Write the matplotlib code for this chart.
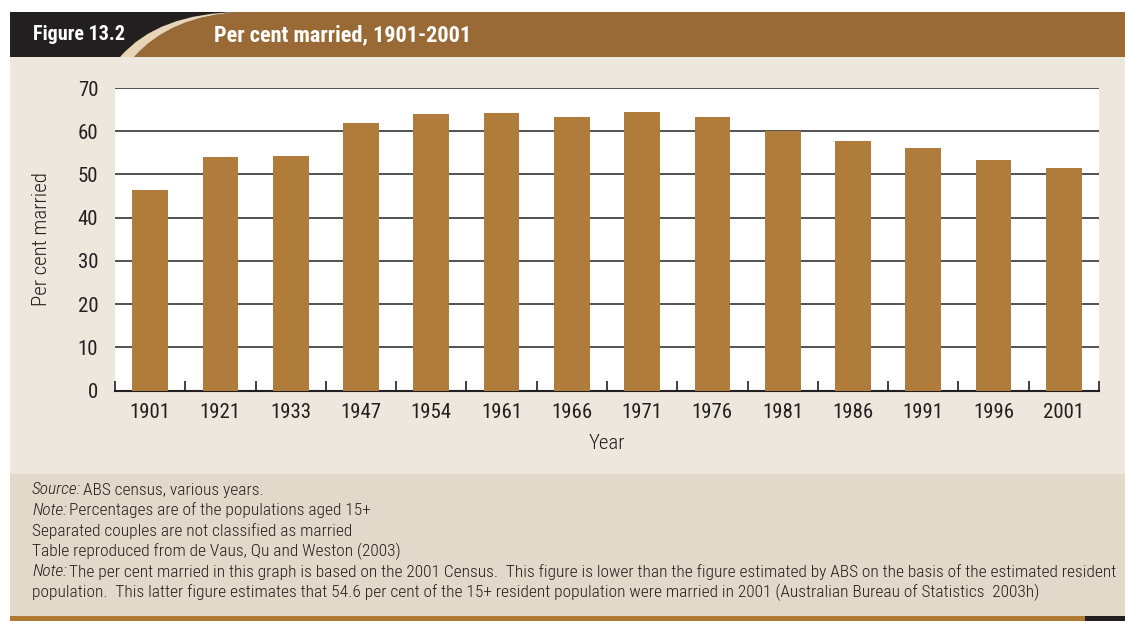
import matplotlib.pyplot as plt
from matplotlib.patches import Rectangle, PathPatch
from matplotlib.path import Path

years = ['1901', '1921', '1933', '1947', '1954', '1961', '1966',
         '1971', '1976', '1981', '1986', '1991', '1996', '2001']
pct_married = [46.4, 54.0, 54.3, 61.9, 64.0, 64.2, 63.3,
               64.4, 63.3, 60.1, 57.8, 56.1, 53.4, 51.5]
yticks = [0, 10, 20, 30, 40, 50, 60, 70]

notes = [
    ('Source:', 'ABS census, various years.'),
    ('Note:', 'Percentages are of the populations aged 15+'),
    ('', 'Separated couples are not classified as married'),
    ('', 'Table reproduced from de Vaus, Qu and Weston (2003)'),
    ('Note:', 'The per cent married in this graph is based on the 2001 Census.  This figure is lower than the figure '
              'estimated by ABS on the basis of the estimated resident'),
    ('', 'population.  This latter figure estimates that 54.6 per cent of the 15+ resident population were married '
         'in 2001 (Australian Bureau of Statistics  2003h)'),
]

plt.rcParams['font.family'] = ['Roboto Condensed', 'DejaVu Sans']

W, H = 1125, 621
ink = '#231F20'
fig = plt.figure(figsize=(W / 100, H / 100), dpi=100)
fig.patch.set_facecolor('white')

# background frame drawn in pixel coordinates
bg = fig.add_axes([0, 0, 1, 1])
bg.set_xlim(0, W)
bg.set_ylim(H, 0)
bg.axis('off')

bg.add_patch(Rectangle((10, 57), W - 10, 417, color='#EEE7DE', lw=0))
bg.add_patch(Rectangle((10, 474), W - 10, 143, color='#E3D9CA', lw=0))
bg.add_patch(Rectangle((10, 616), 1080, 5, color='#B07A35', lw=0))
bg.add_patch(Rectangle((1085, 616), 40, 5, color=ink, lw=0))

# header bar
bg.add_patch(Rectangle((10, 12), W - 10, 45, color=ink, lw=0))
brown = Path([(134, 57), (170, 16), (240, 12), (W, 12), (W, 57), (134, 57)],
             [Path.MOVETO, Path.CURVE3, Path.CURVE3, Path.LINETO, Path.LINETO, Path.CLOSEPOLY])
bg.add_patch(PathPatch(brown, color='#9A6A36', lw=0))
swoosh = Path([(120, 57), (158, 13), (240, 12), (170, 16), (134, 57), (120, 57)],
              [Path.MOVETO, Path.CURVE3, Path.CURVE3, Path.CURVE3, Path.CURVE3, Path.CLOSEPOLY])
bg.add_patch(PathPatch(swoosh, color='#E8D5B7', lw=0))
bg.text(33, 35, 'Figure 13.2', color='white', fontsize=14.5, fontweight='bold',
        va='center', ha='left')
bg.text(214, 35, 'Per cent married, 1901-2001', color='white', fontsize=16,
        fontweight='bold', va='center', ha='left')

# footer notes
y0 = 490
for i, (lead, rest) in enumerate(notes):
    y = y0 + i * 20.4
    t = bg.text(32, y, lead, fontsize=12.5, style='italic', fontweight='light',
                color=ink, va='center', ha='left')
    if lead:
        bg.annotate(rest, xy=(1, 0.5), xycoords=t, xytext=(1.5, 0),
                    textcoords='offset points', fontsize=12.5, fontweight='light',
                    color=ink, va='center', ha='left')
    else:
        t.set_text(rest)
        t.set_style('normal')

# chart
ax = fig.add_axes([115 / W, 1 - 390.7 / H, (1099 - 115) / W, (390.7 - 88) / H])
ax.set_facecolor('white')
x = range(len(years))
ax.bar(x, pct_married, width=0.51, color='#AF7C3B', zorder=3)
ax.set_xlim(-0.5, len(years) - 0.5)
ax.set_ylim(0, 70)
ax.set_yticks(yticks)
for v in yticks[1:]:
    ax.axhline(v, color='#222222', lw=1.1, zorder=1)

ax.set_xticks([i - 0.5 for i in range(len(years) + 1)])
ax.set_xticklabels([])
ax.set_xticks(list(x), minor=True)
ax.set_xticklabels(years, minor=True, fontsize=15, color=ink)
ax.tick_params(axis='x', which='major', direction='in', length=7, width=1.2, color=ink)
ax.tick_params(axis='x', which='minor', length=0, pad=9)
ax.tick_params(axis='y', length=0, pad=12, labelsize=15, labelcolor=ink)

for s in ['top', 'right', 'left']:
    ax.spines[s].set_visible(False)
ax.spines['bottom'].set_linewidth(1.5)
ax.spines['bottom'].set_color(ink)

ax.set_ylabel('Per cent married', fontsize=15, fontweight='light', color=ink)
ax.yaxis.set_label_coords(-0.075, 0.5)
ax.set_xlabel('Year', fontsize=15, fontweight='light', color=ink)
ax.xaxis.set_label_coords(0.5, -0.176)
ax.xaxis.label.set_va('center')
ax.yaxis.label.set_va('center')

fig.savefig('out.png', dpi=100)
